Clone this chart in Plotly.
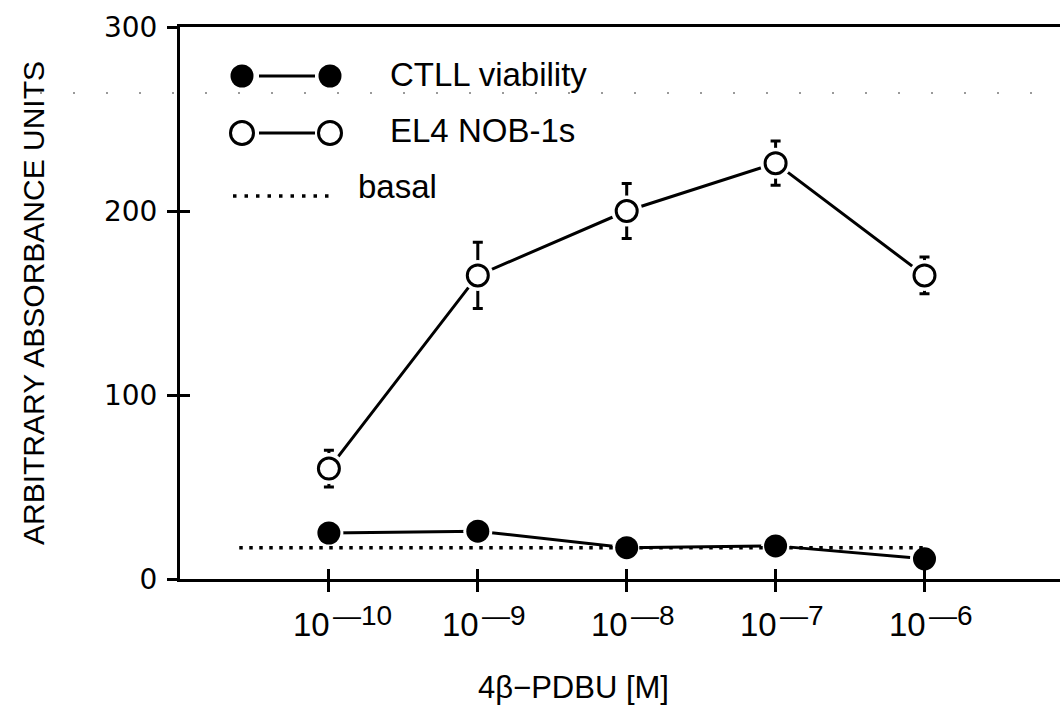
import math
import plotly.graph_objects as go

# --- data -------------------------------------------------------------
conc = [1e-10, 1e-9, 1e-8, 1e-7, 1e-6]                 # 4beta-PDBU [M]
el4_nob1s = [60, 165, 200, 226, 165]                    # EL4 NOB-1s
el4_err = [10, 18, 15, 12, 10]
ctll_viability = [25, 26, 17, 18, 11]                   # CTLL viability
basal_level = 17
basal_span = [2.5e-11, 1e-6]
tick_vals = [1e-10, 1e-9, 1e-8, 1e-7, 1e-6]
tick_exps = ["10", "9", "8", "7", "6"]
y_ticks = [0, 100, 200, 300]

# --- geometry ---------------------------------------------------------
W, H = 1060, 705
ML, MR, MT, MB = 180, 0, 27, 126
PW, PH = W - ML - MR, H - MT - MB
FONT = "Liberation Sans, Arial, Helvetica, sans-serif"
WIDE = "DejaVu Sans, Verdana, sans-serif"
INK = "black"
LW = 3


def px_x(px):
    return (px - ML) / PW


def px_y(py):
    return (H - MB - py) / PH


fig = go.Figure()

# CTLL line, then a white halo so the line stops short of each dot
fig.add_trace(go.Scatter(x=conc, y=ctll_viability, mode="lines",
                         line=dict(color=INK, width=LW), hoverinfo="skip"))
fig.add_trace(go.Scatter(x=conc, y=ctll_viability, mode="markers",
                         marker=dict(symbol="circle", size=29, color="white"),
                         hoverinfo="skip"))
# basal level
fig.add_trace(go.Scatter(x=basal_span, y=[basal_level, basal_level], mode="lines",
                         line=dict(color=INK, width=3.5, dash="3.5px,6.5px"),
                         hoverinfo="skip"))
fig.add_trace(go.Scatter(x=conc, y=ctll_viability, mode="markers",
                         marker=dict(symbol="circle", size=23, color=INK),
                         name="CTLL viability"))

# EL4 NOB-1s line with error bars, halo, open circles
fig.add_trace(go.Scatter(x=conc, y=el4_nob1s, mode="lines",
                         line=dict(color=INK, width=LW),
                         error_y=dict(type="data", array=el4_err, visible=True,
                                      color=INK, thickness=3, width=5),
                         hoverinfo="skip"))
fig.add_trace(go.Scatter(x=conc, y=el4_nob1s, mode="markers",
                         marker=dict(symbol="circle", size=31, color="white"),
                         hoverinfo="skip"))
fig.add_trace(go.Scatter(x=conc, y=el4_nob1s, mode="markers",
                         marker=dict(symbol="circle", size=21, color="white",
                                     line=dict(color=INK, width=3)),
                         name="EL4 NOB-1s"))

# invisible carrier for the inward half of the crossing ticks
fig.add_trace(go.Scatter(x=[1e-10], y=[0], xaxis="x2", yaxis="y2", mode="markers",
                         marker=dict(size=1, color="rgba(0,0,0,0)"), hoverinfo="skip"))

xrange = [-11, -5.09]

fig.update_layout(
    width=W, height=H,
    margin=dict(l=ML, r=MR, t=MT, b=MB, pad=0),
    paper_bgcolor="white", plot_bgcolor="white",
    showlegend=False,
    font=dict(family=FONT, color=INK, size=30),
    xaxis=dict(type="log", range=xrange, tickvals=tick_vals, showticklabels=False,
               ticks="outside", ticklen=10, tickwidth=LW, tickcolor=INK,
               showline=True, linewidth=LW, linecolor=INK, mirror=True,
               showgrid=False, zeroline=False),
    yaxis=dict(range=[0, 300], tickvals=y_ticks,
               ticks="outside", ticklen=10, tickwidth=LW, tickcolor=INK,
               showline=True, linewidth=LW, linecolor=INK,
               showgrid=False, zeroline=False, ticklabelstandoff=4,
               tickfont=dict(family=WIDE, size=28)),
    xaxis2=dict(type="log", range=xrange, overlaying="x", anchor="y2",
                tickvals=tick_vals, showticklabels=False, ticks="inside",
                ticklen=10, tickwidth=LW, tickcolor=INK, showgrid=False,
                zeroline=False, showline=False),
    yaxis2=dict(range=[0, 300], overlaying="y", anchor="x2", side="left",
                tickvals=y_ticks, showticklabels=False, ticks="inside",
                ticklen=10, tickwidth=LW, tickcolor=INK, showgrid=False,
                zeroline=False, showline=False),
)

shapes = []
annotations = []

# x tick labels: "10" with a large raised exponent
for v, e in zip(tick_vals, tick_exps):
    lx = math.log10(v)
    annotations.append(dict(xref="x", yref="paper", x=lx, y=px_y(624), xshift=3,
                            text="10", showarrow=False, xanchor="right",
                            yanchor="middle", font=dict(size=33)))
    annotations.append(dict(xref="x", yref="paper", x=lx, y=px_y(615), xshift=2,
                            text="—" + e, showarrow=False, xanchor="left",
                            yanchor="middle", font=dict(size=28)))

# faint dotted row running across the sheet
shapes.append(dict(type="line", xref="paper", yref="paper",
                   x0=px_x(40), x1=px_x(1060), y0=px_y(93), y1=px_y(93),
                   line=dict(color="#9a9a9a", width=2, dash="2px,31px")))


def legend_dot(cx, cy, filled):
    return dict(type="circle", xref="paper", yref="paper",
                xsizemode="pixel", ysizemode="pixel",
                xanchor=px_x(cx), yanchor=px_y(cy),
                x0=-11.5, x1=11.5, y0=-11.5, y1=11.5,
                fillcolor=INK if filled else "white",
                line=dict(color=INK, width=0 if filled else 3))


# legend rows
rows = [(76, True, "CTLL viability"), (133, False, "EL4 NOB-1s")]
for cy, filled, label in rows:
    shapes.append(dict(type="line", xref="paper", yref="paper",
                       x0=px_x(259), x1=px_x(315), y0=px_y(cy), y1=px_y(cy),
                       line=dict(color=INK, width=LW)))
    shapes.append(legend_dot(242, cy, filled))
    shapes.append(legend_dot(330, cy, filled))
    annotations.append(dict(xref="paper", yref="paper", x=px_x(388), y=px_y(cy - 2),
                            text=label, showarrow=False, xanchor="left",
                            yanchor="middle", font=dict(size=33)))
shapes.append(dict(type="line", xref="paper", yref="paper",
                   x0=px_x(233), x1=px_x(330), y0=px_y(196), y1=px_y(196),
                   line=dict(color=INK, width=3.5, dash="3.5px,8px")))
annotations.append(dict(xref="paper", yref="paper", x=px_x(356), y=px_y(187),
                        text="basal", showarrow=False, xanchor="left",
                        yanchor="middle", font=dict(size=33)))

# axis titles
annotations.append(dict(xref="paper", yref="paper", x=px_x(573), y=px_y(688),
                        text="4β−PDBU [M]", showarrow=False, xanchor="center",
                        yanchor="middle", font=dict(size=31)))
annotations.append(dict(xref="paper", yref="paper", x=px_x(33), y=px_y(303),
                        text="ARBITRARY ABSORBANCE UNITS", showarrow=False,
                        textangle=-90, xanchor="center", yanchor="middle",
                        font=dict(size=30)))

fig.update_layout(shapes=shapes, annotations=annotations)
fig.write_html("out.html")
